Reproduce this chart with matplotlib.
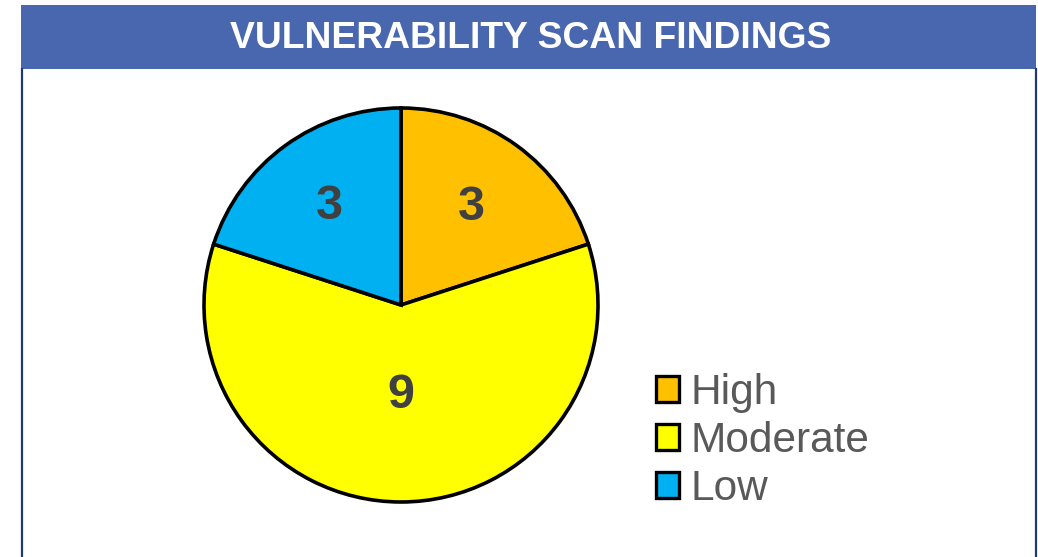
import matplotlib
matplotlib.use("Agg")
import matplotlib.pyplot as plt
from matplotlib.patches import Rectangle
from matplotlib.lines import Line2D
import numpy as np

plt.rcParams["font.family"] = ["Liberation Sans", "DejaVu Sans"]

# data
categories = ["High", "Moderate", "Low"]
counts = [3, 9, 3]
colors = ["#FFC000", "#FFFF00", "#00B0F0"]
label_dist = [0.61, 0.46, 0.62]  # where Excel put the numbers

W, H = 1038, 557
fig = plt.figure(figsize=(W / 100, H / 100), dpi=100)
fig.patch.set_facecolor("white")

# title bar
fig.patches.append(Rectangle((21 / W, 1 - 69 / H), 1015 / W, 64 / H,
                             transform=fig.transFigure, facecolor="#4967AE",
                             edgecolor="none", zorder=0))
fig.text(531 / W, 1 - 38 / H, "VULNERABILITY SCAN FINDINGS", ha="center",
         va="center", color="white", fontsize=26.8, fontweight="bold")

# side borders of the box
for xp in (21.5, 1035.5):
    fig.lines.append(Line2D([xp / W, xp / W], [0, 1 - 69 / H],
                            transform=fig.transFigure, color="#1F3A7A", lw=1.6))

# pie
cx, cy, r = 401, 305, 197
ax = fig.add_axes([(cx - r) / W, 1 - (cy + r) / H, 2 * r / W, 2 * r / H])
wedges, _ = ax.pie(counts, colors=colors, startangle=90, counterclock=False,
                   radius=1, wedgeprops=dict(edgecolor="black", linewidth=2.6))
ax.set_xlim(-1, 1)
ax.set_ylim(-1, 1)
ax.set_aspect("equal")
ax.axis("off")

for w, n, d in zip(wedges, counts, label_dist):
    mid = np.deg2rad((w.theta1 + w.theta2) / 2)
    ax.text(d * np.cos(mid), d * np.sin(mid), str(n), ha="center", va="center",
            fontsize=35, fontweight="bold", color="#404040")

# legend
leg = fig.legend(wedges, categories, loc="upper left",
                 bbox_to_anchor=(656 / W, 1 - 373 / H), frameon=False,
                 fontsize=30.5, handlelength=0.55, handleheight=0.55,
                 handletextpad=0.26, labelspacing=0.19, borderpad=0,
                 borderaxespad=0)
for t in leg.get_texts():
    t.set_color("#595959")
for h in leg.legend_handles:
    h.set_linewidth(2.4)

fig.savefig("out.png", dpi=100)
